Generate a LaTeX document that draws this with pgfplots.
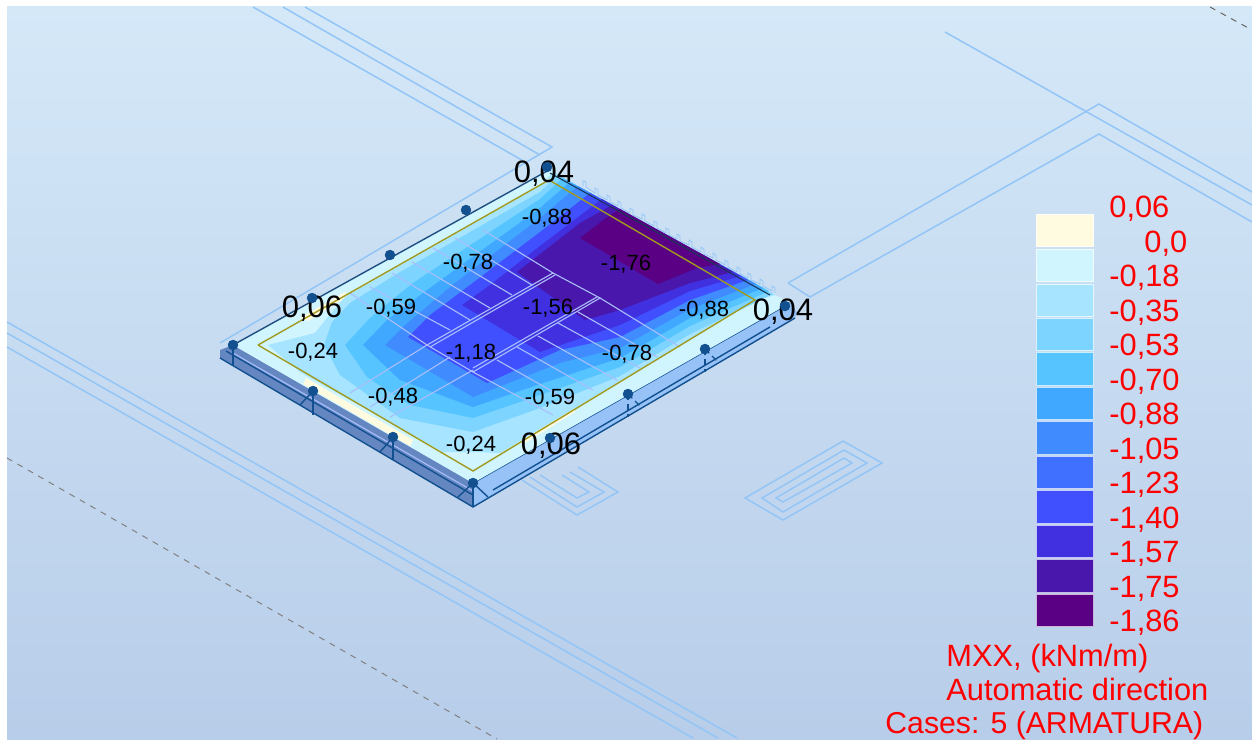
\documentclass[border=0pt]{standalone}
\usepackage{fontspec}
\setmainfont{Liberation Sans}
\usepackage{pgfplots}
\pgfplotsset{compat=1.18}

\definecolor{bgtop}{HTML}{D4E8F8}
\definecolor{bgbot}{HTML}{B8CDE9}
\definecolor{wire}{HTML}{93C5F6}
\definecolor{rib}{HTML}{A9BEFB}
\definecolor{node}{HTML}{12508F}
\definecolor{sideR}{HTML}{96C2F7}
\definecolor{sideL}{HTML}{6487C2}
\definecolor{olive}{HTML}{A09A20}
\definecolor{slate}{HTML}{1F4F80}
\definecolor{cA}{HTML}{FFFBE0}
\definecolor{cB}{HTML}{D0F5FF}
\definecolor{cC}{HTML}{A6E4FF}
\definecolor{cD}{HTML}{7DD4FF}
\definecolor{cE}{HTML}{55C4FF}
\definecolor{cF}{HTML}{40A8FF}
\definecolor{cG}{HTML}{408CFF}
\definecolor{cH}{HTML}{4070FF}
\definecolor{cI}{HTML}{4050FF}
\definecolor{cJ}{HTML}{4030E0}
\definecolor{cK}{HTML}{4A17AD}
\definecolor{cL}{HTML}{5A0085}

% all geometry in picture pixels, y downwards
\newcommand{\band}[2]{\addplot[fill=#1,draw=none] coordinates {#2} --cycle;}
\newcommand{\wire}[1]{\addplot[wire,line width=0.75pt] coordinates {#1};}
\newcommand{\rib}[1]{\addplot[rib,line width=0.55pt] coordinates {#1};}
\newcommand{\edgeline}[1]{\addplot[node,line width=0.7pt] coordinates {#1};}
\newcommand{\swatch}[3]{\addplot[fill=#1,draw=white!70!#1,line width=0.4pt] coordinates {(1036,#2) (1093,#2) (1093,#3) (1036,#3)} --cycle;}
\newcommand{\valtext}[3]{\node[font=\fontsize{11}{13}\selectfont] at (axis cs:#1,#2) {#3};}
\newcommand{\bigtext}[3]{\node[font=\fontsize{15.5}{18}\selectfont] at (axis cs:#1,#2) {#3};}
\newcommand{\redtext}[3]{\node[anchor=base west,inner sep=0pt,text=red,font=\fontsize{15.4}{18}\selectfont] at (axis cs:#1,#2) {#3};}

\begin{document}
\begin{tikzpicture}
\begin{axis}[
    scale only axis,
    width=626pt,
    height=370pt,
    xmin=0, xmax=1252,
    ymin=0, ymax=740,
    y dir=reverse,
    hide axis,
]
\addplot[fill=white,draw=none] coordinates {(0,0) (1252,0) (1252,740) (0,740)} --cycle;
\addplot[draw=none,top color=bgtop,bottom color=bgbot] coordinates {(7,6) (1252,6) (1252,739) (7,739)} --cycle;

% floor plan lines behind the slab
\wire{(253,7) (527,163)}
\wire{(283,7) (540,155)}
\wire{(305,7) (552,147) (220,343)}
\wire{(945,32) (1252,205)}
\wire{(788,283) (1099,104) (1252,192)}
\wire{(788,283) (810,297) (1099,134) (1252,222)}
\wire{(7,322) (737,738)}
\wire{(7,333) (718,738)}
\wire{(7,347) (693,738)}
\wire{(843,441) (882,463) (783,520) (745,498) (843,441)}
\wire{(844,450) (867,463) (783,512) (762,498) (844,450)}
\wire{(844,458) (852,463) (783,502) (776,498) (844,458)}
\wire{(522,480) (577,515) (618,492) (578,467)}
\wire{(530,477) (577,507) (604,492) (570,472)}
\wire{(540,475) (577,498) (589,492) (562,475)}
\addplot[gray,line width=0.5pt,dashed] coordinates {(7,458) (497,739)};
\addplot[black!60,line width=0.5pt,dashed] coordinates {(1210,7) (1252,30)};
% bumps along the back edge
\addplot[wire,line width=0.4pt] coordinates {(583,186) (583,181) (586,182) (586,187) (595,193) (595,188) (598,190) (598,195) (607,200) (607,195) (610,197) (610,202) (618,206) (618,201) (621,203) (621,208) (630,213) (630,208) (633,210) (633,215) (642,219) (642,214) (645,216) (645,221) (654,226) (654,221) (657,223) (657,228) (666,233) (666,228) (669,230) (669,235) (677,239) (677,234) (680,236) (680,241) (689,245) (689,240) (692,242) (692,247) (701,252) (701,247) (704,249) (704,254) (713,258) (713,253) (716,255) (716,260) (725,265) (725,260) (728,262) (728,267) (737,272) (737,267) (740,269) (740,274) (748,278) (748,273) (751,275) (751,280) (760,284) (760,279) (763,281) (763,286) (772,291) (772,286) (775,288) (775,293)};

% slab sides
\band{sideR}{(473,483) (790,303) (797,312) (795,318) (473,507)}
\band{sideL}{(233,345) (473,483) (473,507) (220,358) (220,350)}
\edgeline{(220,358) (473,507) (795,318)}
\edgeline{(226,351) (473,495)}
\edgeline{(493,490) (770,327)}
\edgeline{(473,483) (790,303)}
\rib{(233,353) (473,491)}

% slab top and contour bands
\band{cB}{(233,345) (473,483) (790,303) (549,170)}
\band{cA}{(300,318) (345,292) (348,296) (308,321)}
\band{cA}{(303,384) (410,446) (413,440) (306,378)}
\band{cA}{(520,437) (575,405) (575,412) (525,443)}
\band{cC}{(553,172) (540,186) (345,297) (327,318) (315,333) (268,345) (300,372) (443,452) (473,452) (500,453) (755,300) (776,295)}
\band{cD}{(558,175) (540,192) (400,272) (350,303) (332,322) (324,345) (340,375) (400,418) (473,432) (540,408) (620,376) (690,334) (773,294)}
\band{cE}{(563,178) (540,199) (413,283) (370,318) (345,345) (367,377) (410,405) (473,418) (540,395) (620,367) (690,326) (769,291)}
\band{cF}{(570,182) (540,208) (423,293) (387,320) (363,345) (400,380) (473,407) (540,384) (620,358) (690,318) (763,288)}
\band{cG}{(578,186) (540,218) (455,283) (405,325) (385,345) (473,397) (560,363) (620,348) (690,309) (756,284)}
\band{cI}{(590,193) (540,232) (470,285) (430,315) (408,337) (487,383) (560,350) (620,337) (690,300) (748,280)}
\band{cJ}{(602,199) (540,246) (490,285) (462,305) (540,352) (620,325) (690,291) (741,276)}
\band{cK}{(612,205) (580,223) (517,272) (585,320) (620,310) (690,283) (733,272)}
\band{cL}{(620,209) (606,218) (580,238) (658,284) (697,268) (720,264)}

% reinforcement zones
\rib{(427,345) (553,273) (600,298) (473,372) (427,345)}
\rib{(430,347) (555,275)}
\rib{(473,368) (597,297)}
\rib{(450,330) (370,287)}
\rib{(470,320) (392,273)}
\rib{(490,308) (412,262)}
\rib{(512,295) (433,248)}
\rib{(532,285) (455,238)}
\rib{(553,273) (483,230)}
\rib{(427,345) (350,293)}
\rib{(473,372) (553,415)}
\rib{(497,360) (573,403)}
\rib{(517,347) (593,390)}
\rib{(538,336) (617,380)}
\rib{(558,323) (640,368)}
\rib{(578,312) (657,357)}
\rib{(600,298) (680,347)}
\rib{(427,345) (350,393)}
\rib{(450,357) (370,407)}
\rib{(473,370) (390,417)}

% slab outline
\addplot[olive,line width=0.7pt] coordinates {(258,345) (473,471) (755,300) (549,180) (258,345)};
\addplot[slate,line width=0.7pt] coordinates {(233,345) (549,170)};
\addplot[slate!70!black,line width=0.55pt] coordinates {(550,173) (770,295)};

% supports
\edgeline{(233,345) (233,365)}
\edgeline{(313,391) (313,415)}
\edgeline{(313,391) (300,405)}
\edgeline{(393,437) (393,460)}
\edgeline{(393,437) (380,452)}
\edgeline{(473,483) (473,507)}
\edgeline{(473,483) (458,497)}
\edgeline{(473,483) (488,497)}
\addplot[node,line width=0.55pt,densely dashed] coordinates {(628,394) (628,417)};
\addplot[node,line width=0.55pt,densely dashed] coordinates {(628,394) (642,408)};
\addplot[node,line width=0.55pt,densely dashed] coordinates {(705,349) (705,372)};
\addplot[node,line width=0.55pt,densely dashed] coordinates {(705,349) (718,362)};
\addplot[only marks,mark=*,mark size=2.4pt,mark options={fill=node,draw=node}] coordinates {
    (233,345) (313,391) (393,437) (473,483) (628,394) (705,349) (550,438)
    (312,298) (390,255) (466,210) (547,167) (785,306)};

% values on the slab
\valtext{547}{218}{-0,88}
\valtext{468}{263}{-0,78}
\valtext{626}{264}{-1,76}
\valtext{391}{308}{-0,59}
\valtext{548}{308}{-1,56}
\valtext{704}{310}{-0,88}
\valtext{313}{352}{-0,24}
\valtext{471}{353}{-1,18}
\valtext{627}{354}{-0,78}
\valtext{393}{397}{-0,48}
\valtext{550}{398}{-0,59}
\valtext{471}{445}{-0,24}
\bigtext{544}{174}{0,04}
\bigtext{312}{309}{0,06}
\bigtext{783}{312}{0,04}
\bigtext{551}{446}{0,06}

% colour scale
\swatch{cA}{214}{246}
\swatch{cB}{249}{281}
\swatch{cC}{284}{316}
\swatch{cD}{318}{350}
\swatch{cE}{352}{385}
\swatch{cF}{387}{419}
\swatch{cG}{421}{454}
\swatch{cH}{456}{488}
\swatch{cI}{490}{523}
\swatch{cJ}{525}{557}
\swatch{cK}{559}{592}
\swatch{cL}{594}{626}
\redtext{1109}{217}{0,06}
\redtext{1144}{252}{0,0}
\redtext{1109}{286}{-0,18}
\redtext{1109}{321}{-0,35}
\redtext{1109}{355}{-0,53}
\redtext{1109}{390}{-0,70}
\redtext{1109}{424}{-0,88}
\redtext{1109}{459}{-1,05}
\redtext{1109}{493}{-1,23}
\redtext{1109}{528}{-1,40}
\redtext{1109}{562}{-1,57}
\redtext{1109}{597}{-1,75}
\redtext{1109}{631}{-1,86}
\redtext{946}{666}{MXX, (kNm/m)}
\redtext{946}{700}{Automatic direction}
\node[anchor=base west,inner sep=0pt,text=red,font=\fontsize{15.1}{18}\selectfont] at (axis cs:885,733) {Cases: 5 (ARMATURA)};
\end{axis}
\end{tikzpicture}
\end{document}
